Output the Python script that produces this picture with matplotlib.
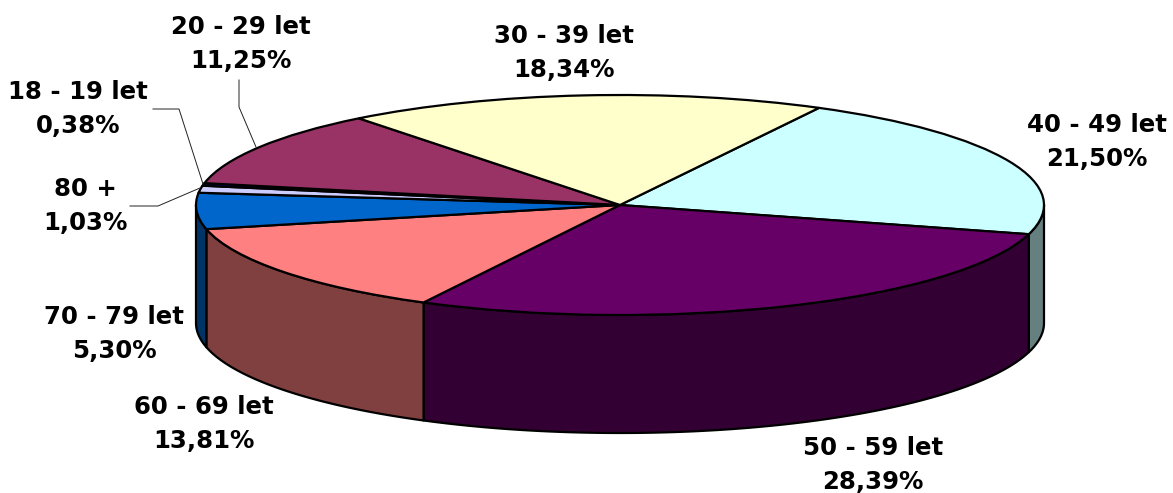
import numpy as np
import matplotlib
matplotlib.use('Agg')
import matplotlib.pyplot as plt
from matplotlib.patches import Polygon

# clockwise from the top right of the pie
groups = ['40 - 49 let', '50 - 59 let', '60 - 69 let', '70 - 79 let', '80 +', '18 - 19 let', '20 - 29 let', '30 - 39 let']
shares = [21.50, 28.39, 13.81, 5.30, 1.03, 0.38, 11.25, 18.34]
top_colors = ['#CCFFFF', '#660066', '#FF8080', '#0066CC', '#CCCCFF', '#000080', '#993366', '#FFFFCC']
side_colors = ['#668080', '#330033', '#804040', '#003366', '#666680', '#000040', '#4D1A33', '#808066']

W, H = 1173, 493
cx, cy, rx, ry = 620, 205, 424, 110
depth = 118 / ry
start = 62

fig = plt.figure(figsize=(W / 100, H / 100), dpi=100)
ax = fig.add_axes([0, 0, 1, 1])

ax.pie(shares, colors=top_colors, startangle=start, counterclock=False, radius=1,
       wedgeprops={'edgecolor': 'black', 'linewidth': 1.6, 'zorder': 3}, normalize=True)
ax.set_aspect('auto')
ax.set_xlim(-cx / rx, (W - cx) / rx)
ax.set_ylim((cy - H) / ry, cy / ry)
ax.axis('off')

# side wall, only the front half shows
edges = start - np.cumsum([0] + shares) * 3.6
for i in range(len(shares)):
    a1 = max(edges[i + 1], -180)
    a2 = min(edges[i], 0)
    if a1 >= a2:
        continue
    t = np.radians(np.linspace(a2, a1, 80))
    xs = np.cos(t)
    ys = np.sin(t)
    pts = np.r_[np.c_[xs, ys], np.c_[xs, ys - depth][::-1]]
    ax.add_patch(Polygon(pts, closed=True, facecolor=side_colors[i], edgecolor='black',
                         linewidth=1.6, joinstyle='round', zorder=2))

# overlay in pixel coordinates for the labels and leader lines
ov = fig.add_axes([0, 0, 1, 1], facecolor='none')
ov.set_xlim(0, W)
ov.set_ylim(H, 0)
ov.axis('off')

label_x = [1097, 873, 204, 114, 85, 78, 241, 564]
label_y = [142, 465, 424, 334, 206, 109, 44, 53]
for name, val, x, y in zip(groups, shares, label_x, label_y):
    s = name + '\n' + f'{val:.2f}'.replace('.', ',') + '%'
    ov.text(x, y, s, ha='center', va='center', family='DejaVu Sans', fontweight='bold',
            fontsize=17.6, linespacing=1.5, color='black')

ov.plot([239, 239, 256], [80, 107, 147], color='#222222', lw=0.7)
ov.plot([153, 179, 203], [109, 109, 184], color='#222222', lw=0.7)
ov.plot([130, 158, 200], [206, 206, 188], color='#222222', lw=0.7)

fig.savefig('out.png', dpi=100, facecolor='white')
